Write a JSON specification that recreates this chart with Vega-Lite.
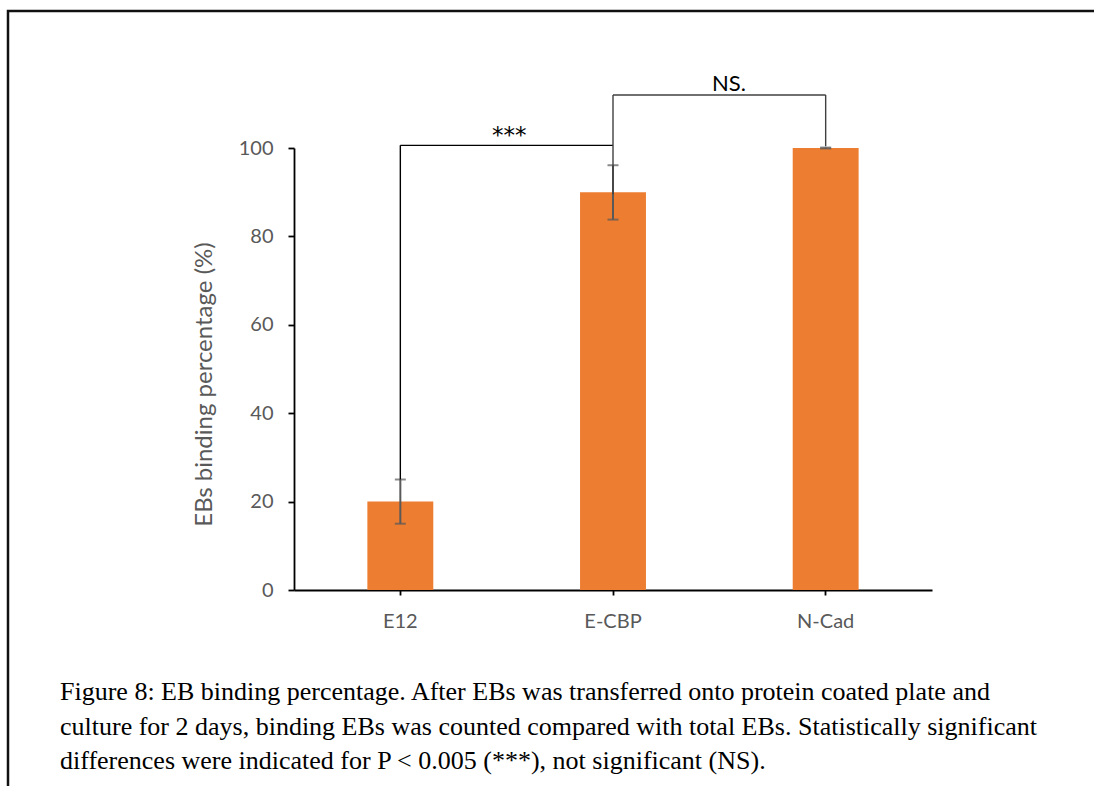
{
  "$schema": "https://vega.github.io/schema/vega-lite/v6.json",
  "width": 1090,
  "height": 779,
  "autosize": {"type": "none"},
  "padding": {"left": 8, "top": 11, "right": -4, "bottom": -4},
  "background": "white",
  "config": {
    "view": {"stroke": "#111111", "strokeWidth": 2.5},
    "font": "Lato"
  },
  "title": {
    "text": [
      "Figure 8: EB binding percentage. After EBs was transferred onto protein coated plate and",
      "culture for 2 days, binding EBs was counted compared with total EBs. Statistically significant",
      "differences were indicated for P < 0.005 (***), not significant (NS)."
    ],
    "orient": "bottom",
    "anchor": "start",
    "frame": "group",
    "offset": -90,
    "dx": 52,
    "font": "Liberation Serif",
    "fontSize": 26,
    "fontWeight": "normal",
    "color": "#000000",
    "lineHeight": 34.5,
    "baseline": "alphabetic"
  },
  "datasets": {
    "bars": [
      {"cat": "E12", "value": 20, "lo": 15, "hi": 25},
      {"cat": "E-CBP", "value": 90, "lo": 83.8, "hi": 96.1},
      {"cat": "N-Cad", "value": 100, "lo": 99.9, "hi": 100.1}
    ],
    "brackets": [
      {"from": "E12", "to": "E12", "y1": 25, "y2": 100.6, "g": "sig"},
      {"from": "E12", "to": "E-CBP", "y1": 100.6, "y2": 100.6, "g": "sig"},
      {"from": "E-CBP", "to": "E-CBP", "y1": 89.5, "y2": 112, "g": "ns"},
      {"from": "E-CBP", "to": "N-Cad", "y1": 112, "y2": 112, "g": "ns"},
      {"from": "N-Cad", "to": "N-Cad", "y1": 100.4, "y2": 112, "g": "ns"}
    ]
  },
  "layer": [
    {
      "data": {"name": "bars"},
      "mark": {"type": "bar", "color": "#ED7D31"},
      "encoding": {
        "x": {
          "field": "cat",
          "type": "nominal",
          "scale": {"domain": ["E12", "E-CBP", "N-Cad"], "range": [286, 924], "paddingInner": 0.69, "paddingOuter": 0.345},
          "axis": {
            "title": null,
            "offset": -200,
            "labelAngle": 0,
            "labelFont": "Lato",
            "labelFontSize": 20,
            "labelColor": "#595959",
            "labelPadding": 16,
            "tickSize": 5,
            "tickWidth": 1.8,
            "tickColor": "#000000",
            "domainColor": "#000000",
            "domainWidth": 1.8,
            "grid": false
          }
        },
        "y": {
          "field": "value",
          "type": "quantitative",
          "scale": {"domain": [0, 100], "range": [579, 137], "nice": false},
          "axis": {
            "title": "EBs binding percentage (%)",
            "titleFont": "Lato",
            "titleFontSize": 24,
            "titleFontWeight": "normal",
            "titleColor": "#595959",
            "titlePadding": 22,
            "titleY": 373,
            "values": [0, 20, 40, 60, 80, 100],
            "offset": -286,
            "labelFont": "Lato",
            "labelFontSize": 20,
            "labelColor": "#595959",
            "labelPadding": 15,
            "tickSize": 6,
            "tickWidth": 1.8,
            "tickColor": "#000000",
            "domainColor": "#000000",
            "domainWidth": 1.8,
            "grid": false
          }
        }
      }
    },
    {
      "data": {"name": "bars"},
      "mark": {"type": "rule", "color": "#595959", "strokeWidth": 2},
      "encoding": {
        "x": {"field": "cat", "type": "nominal"},
        "y": {"field": "lo", "type": "quantitative"},
        "y2": {"field": "hi"}
      }
    },
    {
      "data": {"name": "bars"},
      "mark": {"type": "tick", "color": "#595959", "size": 11, "thickness": 2},
      "encoding": {
        "x": {"field": "cat", "type": "nominal"},
        "y": {"field": "lo", "type": "quantitative"}
      }
    },
    {
      "data": {"name": "bars"},
      "mark": {"type": "tick", "color": "#595959", "size": 11, "thickness": 2},
      "encoding": {
        "x": {"field": "cat", "type": "nominal"},
        "y": {"field": "hi", "type": "quantitative"}
      }
    },
    {
      "data": {"name": "brackets"},
      "mark": {"type": "rule", "strokeWidth": 1.4},
      "encoding": {
        "x": {"field": "from", "type": "nominal"},
        "x2": {"field": "to"},
        "y": {"field": "y1", "type": "quantitative"},
        "y2": {"field": "y2"},
        "color": {
          "field": "g",
          "type": "nominal",
          "scale": {"domain": ["sig", "ns"], "range": ["#000000", "#404040"]},
          "legend": null
        }
      }
    },
    {
      "data": {"values": [{"label": "***", "from": "E12", "y": 101.2}]},
      "mark": {"type": "text", "fontSize": 23, "font": "DejaVu Sans", "color": "#000000", "dx": 109, "baseline": "alphabetic", "align": "center"},
      "encoding": {
        "x": {"field": "from", "type": "nominal"},
        "y": {"field": "y", "type": "quantitative"},
        "text": {"field": "label"}
      }
    },
    {
      "data": {"values": [{"label": "NS.", "from": "E-CBP", "y": 112.9}]},
      "mark": {"type": "text", "fontSize": 22, "font": "Lato", "color": "#000000", "dx": 116, "baseline": "alphabetic", "align": "center"},
      "encoding": {
        "x": {"field": "from", "type": "nominal"},
        "y": {"field": "y", "type": "quantitative"},
        "text": {"field": "label"}
      }
    }
  ]
}
